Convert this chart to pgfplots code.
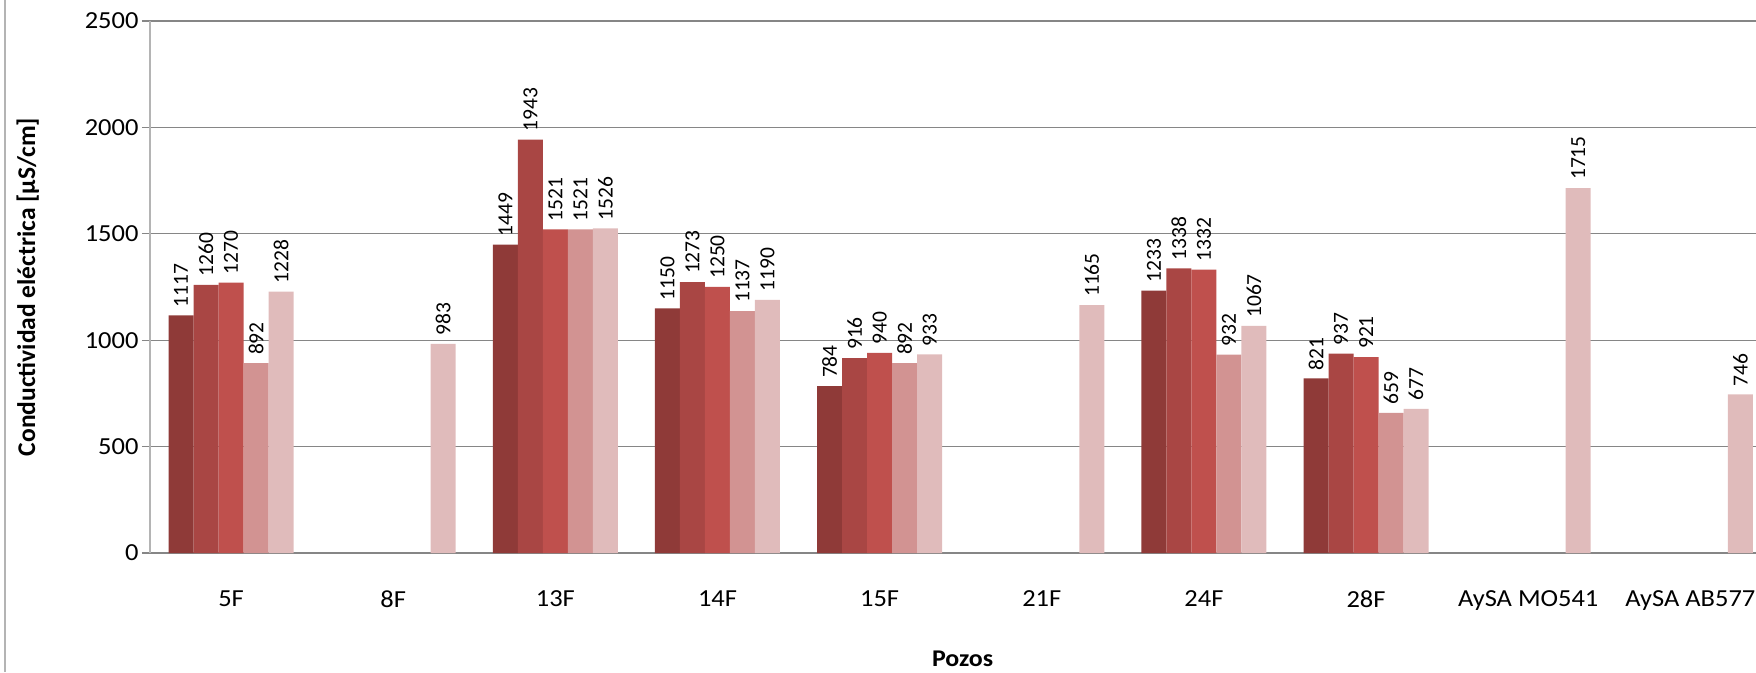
\documentclass[border=0pt]{standalone}
\usepackage{fontspec}
\setmainfont{Carlito}
\newfontfamily\calS[FakeStretch=1.08]{Carlito}
\usepackage{pgfplots}
\pgfplotsset{compat=1.18}
\definecolor{sA}{HTML}{8F3A38}
\definecolor{sB}{HTML}{A94644}
\definecolor{sC}{HTML}{BF504D}
\definecolor{sD}{HTML}{D29392}
\definecolor{sE}{HTML}{E0BBBB}
\definecolor{gridc}{HTML}{868686}
\definecolor{yax}{HTML}{B4B4B4}
\begin{document}
\begin{tikzpicture}
\useasboundingbox (-150pt,-119pt) rectangle (1606pt,553pt);
\draw[color=yax, line width=2pt] (-145pt,-119pt) -- (-145pt,553pt);
\begin{axis}[
  scale only axis, width=1606pt, height=532pt,
  at={(0pt,0pt)}, anchor=south west,
  xmin=-0.5, xmax=9.405, ymin=0, ymax=2500,
  ybar=0pt, bar width=25pt,
  axis x line*=bottom, axis y line*=left,
  x axis line style={draw=gridc, line width=1.3pt},
  y axis line style={draw=yax, line width=2pt},
  ytick={0,500,1000,1500,2000,2500},
  ymajorgrids, grid style={draw=gridc, line width=1.3pt},
  ytick style={draw=gridc, line width=1.3pt},
  tick align=outside, major tick length=8pt,
  xtick={0,...,9},
  xticklabels={5F,8F,13F,14F,15F,21F,24F,28F,AySA MO541,AySA AB577},
  xtick style={draw=none},
  /pgf/number format/1000 sep={},
  /pgf/number format/assume math mode=true,
  ticklabel style={font=\calS\fontsize{24.5}{29}\selectfont, text=black},
  xticklabel style={yshift=-26pt},
  ylabel={Conductividad eléctrica [µS/cm]},
  ylabel style={font=\bfseries\fontsize{25.5}{30}\selectfont, at={(axis description cs:-0.076,0.5)}, anchor=center},
  xlabel={Pozos},
  xlabel style={font=\calS\bfseries\fontsize{24}{29}\selectfont, at={(axis description cs:0.506,-0.199)}, anchor=center},
  nodes near coords,
  nodes near coords style={rotate=90, anchor=west, font=\fontsize{21.5}{25}\selectfont, text=black, inner xsep=8pt, inner ysep=1pt},
  clip=false,
]
\addplot[draw=none, fill=sA] coordinates {(0,1117) (2,1449) (3,1150) (4,784) (6,1233) (7,821)};
\addplot[draw=none, fill=sB] coordinates {(0,1260) (2,1943) (3,1273) (4,916) (6,1338) (7,937)};
\addplot[draw=none, fill=sC] coordinates {(0,1270) (2,1521) (3,1250) (4,940) (6,1332) (7,921)};
\addplot[draw=none, fill=sD] coordinates {(0,892) (2,1521) (3,1137) (4,892) (6,932) (7,659)};
\addplot[draw=none, fill=sE] coordinates {(0,1228) (1,983) (2,1526) (3,1190) (4,933) (5,1165) (6,1067) (7,677) (8,1715) (9,746)};
\end{axis}
\end{tikzpicture}
\end{document}
